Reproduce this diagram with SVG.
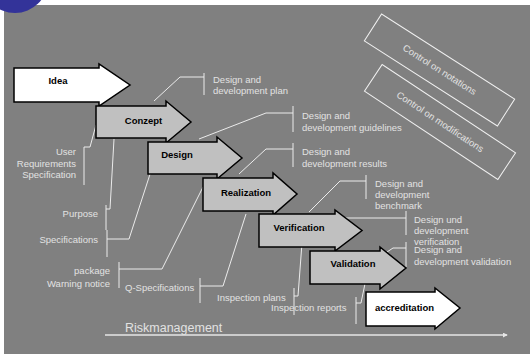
<svg xmlns="http://www.w3.org/2000/svg" width="530" height="354" viewBox="0 0 530 354">
<defs>
<style>
.arr{stroke:#000;stroke-width:1.5;stroke-linejoin:miter}
.g{fill:#c0c0c0}
.w{fill:#fff}
.t{font-family:"Liberation Sans",Arial,sans-serif;font-size:9.5px;font-weight:bold;fill:#000;text-anchor:middle}
.l{font-family:"Liberation Sans",Arial,sans-serif;font-size:9.5px;fill:#e2e2e2}
.r{text-anchor:end}
.c{fill:none;stroke:#ebebeb;stroke-width:1}
.box{fill:none;stroke:#f0f0f0;stroke-width:1}
</style>
<marker id="ah" viewBox="0 0 6 6" refX="5" refY="3" markerWidth="5" markerHeight="5" orient="auto" markerUnits="userSpaceOnUse">
<path d="M0,0 L6,3 L0,6 Z" fill="#e6e6e6"/>
</marker>
</defs>
<rect x="0" y="0" width="530" height="354" fill="#fff"/>
<rect x="4" y="5" width="526" height="349" fill="#808080"/>
<circle cx="15" cy="-20" r="33" fill="#333399"/>

<g id="connectors">
<path class="c" d="M154,101 L180,77 H204 M204,73 V95"/>
<path class="c" d="M199,139 L266,113 H293 M293,106 V132"/>
<path class="c" d="M239,174 L266,149 H293 M293,143 V167"/>
<path class="c" d="M309,212 L340,181 H366 M366,175 V199"/>
<path class="c" d="M340,218 H406 M406,211 V235"/>
<path class="c" d="M381,256 L393,248 H406 M406,242 V267"/>
<path class="c" d="M96,125 L90,147 H84 M84,147 V185"/>
<path class="c" d="M114,139 L110,209 H106 M106,205 V230"/>
<path class="c" d="M152,168 L129,239 H107 M107,230 V257"/>
<path class="c" d="M203,187 L162,269 H119 M119,262 V288"/>
<path class="c" d="M246,214 L223,286 H200 M200,278 V303"/>
<path class="c" d="M302,243 L298,296 H294 M294,288 V315"/>
<path class="c" d="M367,274 L361,303 H356 M356,297 V324"/>
<line x1="105" y1="335" x2="507" y2="335" stroke="#e6e6e6" stroke-width="1.5" marker-end="url(#ah)"/>
</g>

<g id="idea">
<path class="arr w" d="M14,68 H99 V64 L130,85 L99,106 V102 H14 Z"/>
<text class="t" x="58" y="84">Idea</text>
</g>
<g id="conzept">
<path class="arr g" d="M96,106 H166 V101 L191,122 L166,143 V138 H96 Z"/>
<text class="t" x="143.5" y="123.5">Conzept</text>
</g>
<g id="design">
<path class="arr g" d="M148,142 H217 V137 L242,158 L217,179 V174 H148 Z"/>
<text class="t" x="177" y="157.5">Design</text>
</g>
<g id="realization">
<path class="arr g" d="M203,178 H273 V173 L297,194 L273,215 V211 H203 Z"/>
<text class="t" x="246" y="195.5">Realization</text>
</g>
<g id="verification">
<path class="arr g" d="M259,214 H335 V210 L362,230.5 L335,251 V247 H259 Z"/>
<text class="t" x="299" y="230.5">Verification</text>
</g>
<g id="validation">
<path class="arr g" d="M310,251 H380 V247 L406,268 L380,289 V284 H310 Z"/>
<text class="t" x="353" y="266.5">Validation</text>
</g>
<g id="accreditation">
<path class="arr w" d="M366,292 H435 V288 L460,308 L435,329 V326 H366 Z"/>
<text class="t" x="404.5" y="310.5">accreditation</text>
</g>

<g id="plan"><text class="l" x="213" y="82.5">Design and</text><text class="l" x="213" y="93.5">development plan</text></g>
<g id="guidelines"><text class="l" x="302" y="118.5">Design and</text><text class="l" x="302" y="130.5">development guidelines</text></g>
<g id="results"><text class="l" x="302" y="154.5">Design and</text><text class="l" x="302" y="166.5">development results</text></g>
<g id="benchmark"><text class="l" x="375" y="186.5">Design and</text><text class="l" x="375" y="197.5">development</text><text class="l" x="375" y="208.5">benchmark</text></g>
<g id="dverification"><text class="l" x="414" y="222.5">Design und</text><text class="l" x="414" y="234">development</text><text class="l" x="414" y="244.5">verification</text></g>
<g id="dvalidation"><text class="l" x="414" y="252.5">Design and</text><text class="l" x="414" y="264.5">development validation</text></g>

<g id="urs"><text class="l r" x="76" y="154.5">User</text><text class="l r" x="76" y="166.5">Requirements</text><text class="l r" x="76" y="177.5">Specification</text></g>
<g id="purpose"><text class="l r" x="98" y="216.5">Purpose</text></g>
<g id="specifications"><text class="l r" x="98" y="242.5">Specifications</text></g>
<g id="package"><text class="l r" x="110" y="273.5">package</text><text class="l r" x="110" y="286.5">Warning notice</text></g>
<g id="qspec"><text class="l" x="125" y="290.5">Q-Specifications</text></g>
<g id="iplans"><text class="l" x="217" y="300.5">Inspection plans</text></g>
<g id="ireports"><text class="l" x="271" y="310.5">Inspection reports</text></g>
<g id="risk"><text x="125" y="331.5" font-family="Liberation Sans, Arial, sans-serif" font-size="12.5" fill="#e2e2e2">Riskmanagement</text></g>

<g id="notations" transform="translate(439.5,70) rotate(32.6)">
<rect class="box" x="-79" y="-16" width="158" height="32"/>
<text class="l" x="0" y="3" text-anchor="middle" font-size="8.5">Control on notations</text>
</g>
<g id="modifications" transform="translate(440,122) rotate(33.5)">
<rect class="box" x="-80" y="-16" width="160" height="32"/>
<text class="l" x="0" y="3" text-anchor="middle" font-size="8.5">Control on modifications</text>
</g>
</svg>
